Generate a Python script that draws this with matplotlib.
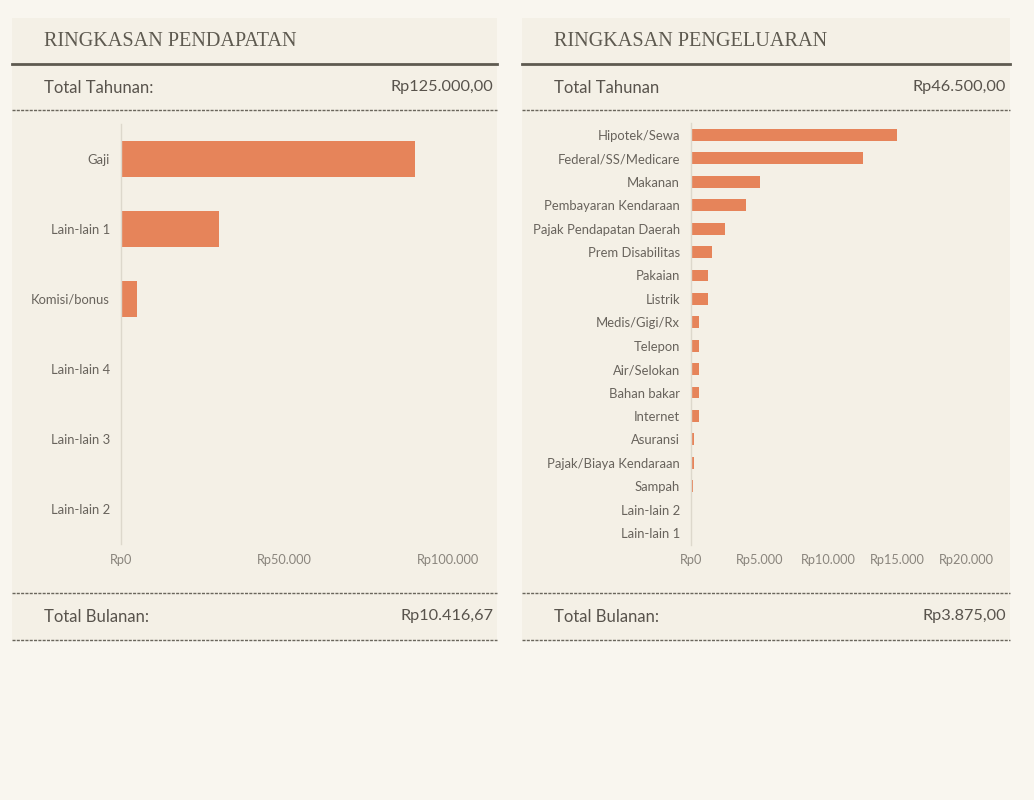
import matplotlib
matplotlib.use("Agg")
import matplotlib.pyplot as plt
from matplotlib.ticker import FuncFormatter
from matplotlib.lines import Line2D
from matplotlib.patches import Rectangle

# ---------------- data ----------------
income_categories = ["Gaji", "Lain-lain 1", "Komisi/bonus", "Lain-lain 4", "Lain-lain 3", "Lain-lain 2"]
income_values = [90000, 30000, 5000, 0, 0, 0]
income_ticks = [0, 50000, 100000]

expense_categories = ["Hipotek/Sewa", "Federal/SS/Medicare", "Makanan", "Pembayaran Kendaraan",
                      "Pajak Pendapatan Daerah", "Prem Disabilitas", "Pakaian", "Listrik",
                      "Medis/Gigi/Rx", "Telepon", "Air/Selokan", "Bahan bakar", "Internet",
                      "Asuransi", "Pajak/Biaya Kendaraan", "Sampah", "Lain-lain 2", "Lain-lain 1"]
expense_values = [15000, 12500, 5000, 4000, 2500, 1500, 1200, 1200, 600, 600, 600, 600, 600,
                  250, 200, 150, 0, 0]
expense_ticks = [0, 5000, 10000, 15000, 20000]

income_title = "RINGKASAN PENDAPATAN"
expense_title = "RINGKASAN PENGELUARAN"
income_annual_label = "Total Tahunan:"
income_annual_value = "Rp125.000,00"
income_month_label = "Total Bulanan:"
income_month_value = "Rp10.416,67"
expense_annual_label = "Total Tahunan"
expense_annual_value = "Rp46.500,00"
expense_month_label = "Total Bulanan:"
expense_month_value = "Rp3.875,00"

# ---------------- style ----------------
W, H = 1034, 800
BG = "#F9F6EF"
PANEL = "#F4F0E6"
BAR = "#E6845A"
DARK = "#5E5A50"
TXT = "#58534C"
CAT = "#68635C"
TICK = "#8A857D"
SANS = ["Lato", "DejaVu Sans"]
SERIF = ["Liberation Serif", "DejaVu Serif"]

fig = plt.figure(figsize=(W / 100, H / 100), dpi=100, facecolor=BG)


def fx(x):
    return x / W


def fy(y):
    return 1 - y / H


def rp(v, pos=None):
    return "Rp" + f"{int(v):,}".replace(",", ".")


def panel(x0, x1, title, al, av, ml, mv):
    fig.patches.append(Rectangle((fx(x0), fy(640)), fx(x1) - fx(x0), fy(18) - fy(640),
                                 transform=fig.transFigure, facecolor=PANEL, edgecolor="none",
                                 zorder=-5))
    fig.text(fx(x0 + 32), fy(41), title, family=SERIF, fontsize=14.6, color=DARK, va="center", ha="left")
    fig.lines.append(Line2D([fx(x0), fx(x1)], [fy(64), fy(64)], transform=fig.transFigure,
                            color=DARK, lw=2.0))
    for yy in (110, 593, 640):
        fig.lines.append(Line2D([fx(x0), fx(x1)], [fy(yy), fy(yy)], transform=fig.transFigure,
                                color="#6A665C", lw=1.0, dashes=(2.2, 0.9)))
    fig.text(fx(x0 + 32), fy(88), al, family=SANS, fontsize=12, color=TXT, va="center", ha="left")
    fig.text(fx(x1 - 4), fy(87), av, family=SANS, fontsize=11.7, color=TXT, va="center", ha="right")
    fig.text(fx(x0 + 32), fy(617), ml, family=SANS, fontsize=12, color=TXT, va="center", ha="left")
    fig.text(fx(x1 - 4), fy(616), mv, family=SANS, fontsize=11.7, color=TXT, va="center", ha="right")


def chart(left, right, top, bottom, cats, vals, ticks, xmax):
    ax = fig.add_axes([fx(left), fy(bottom), fx(right) - fx(left), fy(top) - fy(bottom)], zorder=2)
    ax.set_facecolor("none")
    y = list(range(len(cats)))
    ax.barh(y, vals, height=0.51, color=BAR, zorder=2)
    ax.set_ylim(len(cats) - 0.5, -0.5)
    ax.set_xlim(0, xmax)
    ax.set_yticks(y)
    ax.set_yticklabels(cats, family=SANS, fontsize=9.4, color=CAT)
    ax.set_xticks(ticks)
    ax.xaxis.set_major_formatter(FuncFormatter(rp))
    for lab in ax.get_xticklabels():
        lab.set_family(SANS)
        lab.set_fontsize(9.2)
        lab.set_color(TICK)
    for s in ("top", "right", "bottom"):
        ax.spines[s].set_visible(False)
    ax.spines["left"].set_color("#DDD8CC")
    ax.spines["left"].set_linewidth(1.0)
    ax.tick_params(axis="both", length=0)
    ax.tick_params(axis="y", pad=8)
    ax.tick_params(axis="x", pad=7)
    return ax


panel(12, 497, income_title, income_annual_label, income_annual_value,
      income_month_label, income_month_value)
panel(522, 1010, expense_title, expense_annual_label, expense_annual_value,
      expense_month_label, expense_month_value)

chart(121, 448, 124, 544, income_categories, income_values, income_ticks, 100000)
chart(691, 966, 123.3, 544.7, expense_categories, expense_values, expense_ticks, 20000)

fig.savefig("out.png", dpi=100, facecolor=BG)
